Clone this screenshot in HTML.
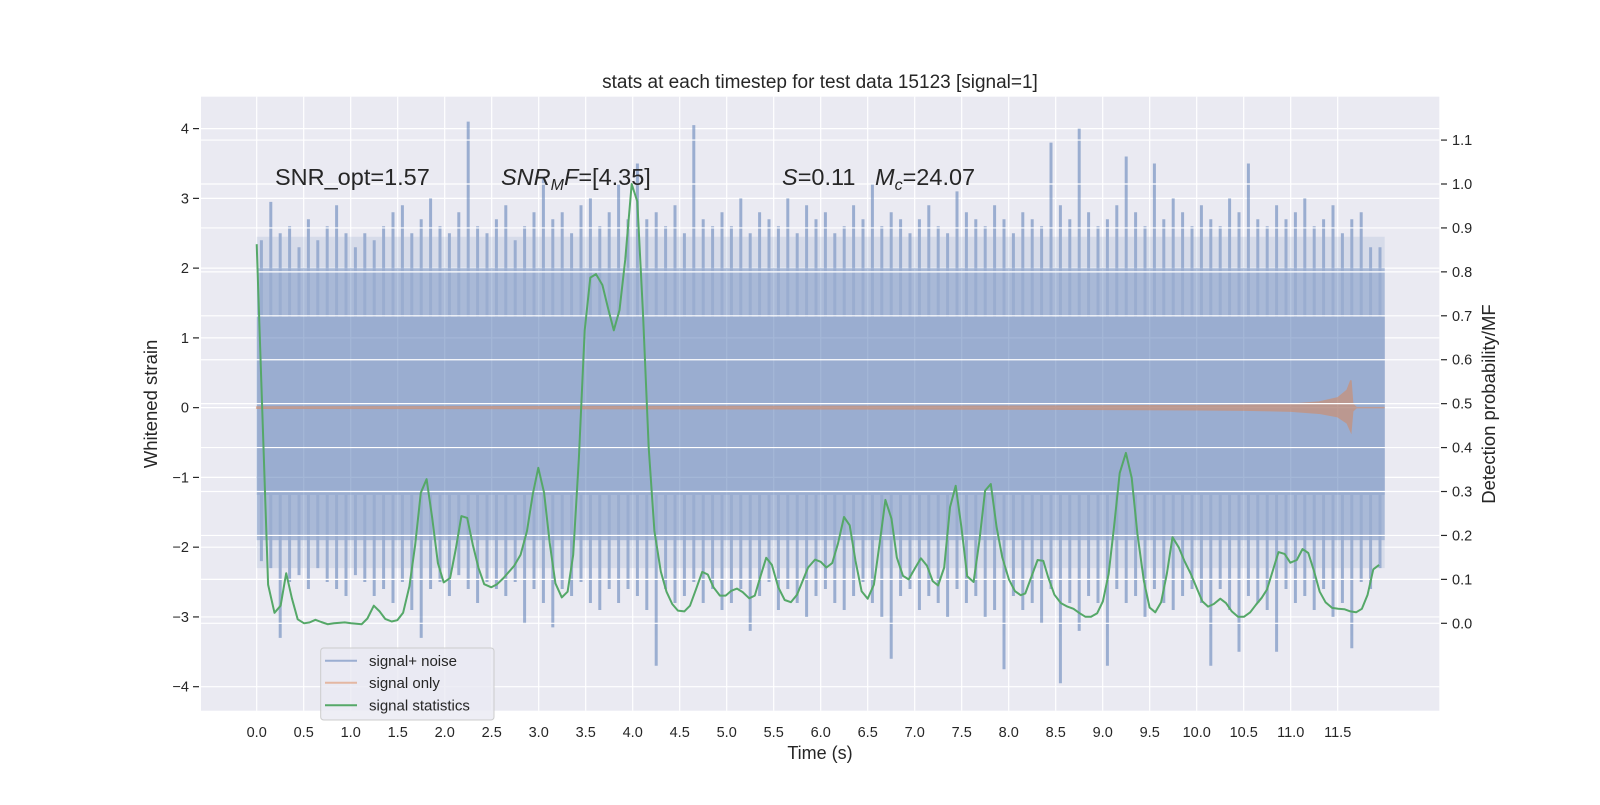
<!DOCTYPE html>
<html><head><meta charset="utf-8"><style>
html,body{margin:0;padding:0;background:#fff}
svg text{font-family:"Liberation Sans","DejaVu Sans",sans-serif;fill:#262626}
</style></head><body>
<svg id="chart" width="1600" height="800" viewBox="0 0 1600 800" xmlns="http://www.w3.org/2000/svg">
<rect x="0" y="0" width="1600" height="800" fill="#fff"/>
<rect x="201" y="96.7" width="1238.3" height="614" fill="#eaeaf2"/>
<g id="gridL"></g>
<g id="blue" opacity="0.5"></g>
<g id="orange" opacity="0.5"></g>
<g id="gridR"></g>
<g id="green"></g>
<g id="axes"></g>
<text x="820" y="88" font-size="19" text-anchor="middle">stats at each timestep for test data 15123 [signal=1]</text>
<text x="275" y="185" font-size="23.5">SNR_opt=1.57</text>
<text x="501" y="185" font-size="23.5"><tspan font-style="italic">SNR</tspan><tspan font-style="italic" font-size="16" dy="5">M</tspan><tspan font-style="italic" dy="-5">F</tspan>=[4.35]</text>
<text x="782" y="185" font-size="23.5"><tspan font-style="italic">S</tspan>=0.11</text>
<text x="875" y="185" font-size="23.5"><tspan font-style="italic">M</tspan><tspan font-style="italic" font-size="16" dy="5">c</tspan><tspan dy="-5">=24.07</tspan></text>
<text x="820" y="759" font-size="18" text-anchor="middle">Time (s)</text>
<text x="0" y="0" font-size="18.5" text-anchor="middle" transform="translate(157,404) rotate(-90)">Whitened strain</text>
<text x="0" y="0" font-size="18.5" text-anchor="middle" transform="translate(1495,404) rotate(-90)">Detection probability/MF</text>
<g>
<rect x="320.7" y="648" width="173.3" height="72" rx="3" fill="#eaeaf2" fill-opacity="0.8" stroke="#cccccc" stroke-width="1"/>
<g><line x1="325" y1="660.7" x2="357" y2="660.7" stroke="#4c72b0" stroke-opacity="0.5" stroke-width="2"/><text x="369" y="666" font-size="15">signal+ noise</text></g>
<g><line x1="325" y1="682.7" x2="357" y2="682.7" stroke="#dd8452" stroke-opacity="0.5" stroke-width="2"/><text x="369" y="688" font-size="15">signal only</text></g>
<g><line x1="325" y1="705.3" x2="357" y2="705.3" stroke="#55a868" stroke-width="2"/><text x="369" y="710.5" font-size="15">signal statistics</text></g>
</g>
</svg>
<script>
const xTicks=[0,0.5,1,1.5,2,2.5,3,3.5,4,4.5,5,5.5,6,6.5,7,7.5,8,8.5,9,9.5,10,10.5,11,11.5];
const leftTicks=[4,3,2,1,0,-1,-2,-3,-4];
const rightTicks=[1.1,1.0,0.9,0.8,0.7,0.6,0.5,0.4,0.3,0.2,0.1,0.0];
const greenTimes=[0,0.121,0.189,0.254,0.314,0.375,0.436,0.504,0.564,0.625,0.686,0.754,0.822,0.936,1.004,1.117,1.178,1.246,1.307,1.367,1.436,1.496,1.557,1.625,1.686,1.746,1.807,1.867,1.928,1.989,2.057,2.117,2.178,2.239,2.299,2.36,2.42,2.496,2.557,2.625,2.739,2.807,2.875,2.936,2.996,3.057,3.117,3.178,3.246,3.307,3.367,3.428,3.489,3.549,3.61,3.678,3.739,3.799,3.86,3.92,3.989,4.049,4.11,4.17,4.231,4.299,4.36,4.42,4.481,4.549,4.61,4.678,4.739,4.799,4.86,4.928,4.989,5.049,5.11,5.17,5.239,5.299,5.36,5.42,5.481,5.549,5.617,5.683,5.748,5.866,5.939,6.0,6.061,6.122,6.183,6.248,6.309,6.37,6.435,6.5,6.566,6.631,6.688,6.753,6.81,6.875,6.936,6.997,7.066,7.131,7.192,7.249,7.314,7.375,7.436,7.497,7.558,7.627,7.688,7.749,7.81,7.871,7.932,8.002,8.067,8.128,8.177,8.238,8.307,8.368,8.421,8.486,8.555,8.624,8.689,8.754,8.815,8.876,8.941,9.002,9.063,9.12,9.181,9.247,9.308,9.369,9.438,9.499,9.56,9.621,9.682,9.743,9.808,9.869,9.938,9.999,10.06,10.121,10.182,10.251,10.312,10.373,10.439,10.504,10.569,10.63,10.691,10.748,10.809,10.87,10.935,10.996,11.065,11.126,11.187,11.248,11.309,11.37,11.44,11.505,11.57,11.635,11.696,11.757,11.818,11.879,11.94];
const greenValues=[0.863,0.088,0.024,0.04,0.114,0.057,0.009,0,0.002,0.008,0.003,-0.002,0,0.002,0,-0.002,0.011,0.04,0.027,0.01,0.004,0.007,0.024,0.084,0.179,0.297,0.328,0.24,0.137,0.093,0.103,0.168,0.244,0.24,0.179,0.126,0.089,0.082,0.089,0.103,0.131,0.156,0.21,0.293,0.354,0.297,0.183,0.091,0.059,0.072,0.156,0.377,0.667,0.787,0.795,0.77,0.716,0.667,0.713,0.827,1.0,0.96,0.705,0.40,0.21,0.118,0.072,0.044,0.029,0.027,0.04,0.08,0.117,0.111,0.082,0.063,0.063,0.074,0.079,0.071,0.057,0.063,0.107,0.149,0.133,0.082,0.053,0.048,0.065,0.127,0.145,0.14,0.127,0.137,0.181,0.242,0.223,0.142,0.073,0.056,0.088,0.188,0.281,0.238,0.15,0.108,0.10,0.123,0.148,0.131,0.096,0.086,0.127,0.264,0.313,0.219,0.107,0.094,0.188,0.302,0.317,0.219,0.15,0.10,0.073,0.064,0.068,0.104,0.144,0.142,0.104,0.065,0.046,0.038,0.033,0.023,0.015,0.015,0.023,0.05,0.112,0.219,0.342,0.388,0.331,0.204,0.096,0.036,0.025,0.048,0.112,0.196,0.173,0.142,0.112,0.081,0.05,0.038,0.044,0.056,0.046,0.027,0.015,0.015,0.025,0.042,0.058,0.077,0.119,0.162,0.158,0.138,0.144,0.169,0.16,0.119,0.072,0.048,0.035,0.033,0.032,0.027,0.025,0.033,0.065,0.123,0.133];
const noiseUpper=[2.4,2.95,2.5,2.6,2.3,2.7,2.4,2.6,2.9,2.5,2.3,2.5,2.4,2.6,2.8,2.9,2.5,2.7,3.0,2.6,2.5,2.8,4.1,2.6,2.5,2.7,2.9,2.4,2.6,2.8,3.3,2.7,2.8,2.5,2.9,3.0,2.6,2.8,3.2,2.7,3.5,2.7,2.8,2.6,2.9,2.5,4.05,2.7,2.6,2.8,2.6,3.0,2.5,2.8,2.7,2.6,3.0,2.5,2.9,2.7,2.8,2.5,2.6,2.9,2.7,3.2,2.6,2.8,2.7,2.5,2.7,2.9,2.6,2.5,3.1,2.8,2.7,2.6,2.9,2.7,2.5,2.8,2.7,2.6,3.8,2.9,2.7,4.0,2.8,2.6,2.7,2.9,3.6,2.8,2.6,3.5,2.7,3.0,2.8,2.6,2.9,2.7,2.6,3.0,2.8,3.5,2.7,2.6,2.9,2.7,2.8,3.0,2.6,2.7,2.9,2.5,2.7,2.8,2.3,2.3];
const noiseLower=[-2.2,-2.3,-3.3,-2.5,-2.4,-2.6,-2.3,-2.5,-2.6,-2.7,-2.4,-2.5,-2.7,-2.6,-2.8,-2.5,-2.9,-3.3,-2.6,-2.5,-2.7,-2.4,-2.6,-2.8,-2.5,-2.6,-2.7,-2.5,-3.1,-2.6,-2.8,-3.15,-2.6,-2.7,-2.5,-2.8,-2.9,-2.6,-2.8,-2.6,-2.7,-2.9,-3.7,-2.6,-2.8,-2.7,-2.5,-2.8,-2.6,-2.9,-2.8,-2.6,-3.2,-2.7,-2.5,-2.9,-2.6,-2.8,-3.0,-2.7,-2.6,-2.8,-2.9,-2.7,-2.5,-2.8,-3.0,-3.6,-2.7,-2.6,-2.9,-2.7,-2.8,-3.0,-2.6,-2.8,-2.7,-3.0,-2.9,-3.75,-2.7,-2.9,-2.8,-3.1,-2.6,-3.95,-2.8,-3.2,-2.7,-2.8,-3.7,-2.6,-2.8,-2.7,-3.0,-2.6,-2.8,-2.9,-2.7,-2.6,-2.8,-3.7,-2.6,-2.9,-3.5,-2.7,-2.8,-2.9,-3.5,-2.6,-2.8,-2.7,-2.9,-2.6,-3.0,-2.8,-3.45,-2.5,-2.6,-2.3];
const noiseCore=[1.3,-1.25];
const noiseFringe=[2.0,-1.9];
const noiseOuter=[2.45,-2.3];
const noiseDuration=12.0;
const chirpTimes=[0,8,10,10.5,11,11.3,11.5,11.6,11.64,11.66,11.7,12.0];
const chirpUpper=[0.01,0.02,0.03,0.035,0.05,0.08,0.14,0.25,0.39,0.05,0.0,0.0];
const chirpLower=[-0.01,-0.02,-0.03,-0.035,-0.05,-0.08,-0.13,-0.22,-0.34,-0.05,0.0,0.0];

const NS='http://www.w3.org/2000/svg';
const PL=201,PR=1439.3,PT=96.7,PB=710.7;
function xs(t){return 256.7+94.0*t;}
function yl(v){return 407.65-69.76*v;}
function yr(v){return 623.3-439.3*v;}
function mk(tag,parent,attrs){const e=document.createElementNS(NS,tag);for(const k in attrs)e.setAttribute(k,attrs[k]);parent.appendChild(e);return e;}

const gL=document.getElementById('gridL'),gR=document.getElementById('gridR'),ax=document.getElementById('axes');
xTicks.forEach(t=>{
  const l=mk('line',gL,{x1:xs(t),x2:xs(t),y1:PT,y2:PB,stroke:'#fff','stroke-width':1.2});
  
  
  const tx=mk('text',ax,{x:xs(t),y:737,'font-size':14.5,'text-anchor':'middle'});
  tx.textContent=t.toFixed(1);
  
  
});
leftTicks.forEach(v=>{
  const l=mk('line',gL,{x1:PL,x2:PR,y1:yl(v),y2:yl(v),stroke:'#fff','stroke-width':1.2});
  
  
  const tk=mk('line',ax,{x1:193,x2:199,y1:yl(v),y2:yl(v),stroke:'#262626','stroke-width':1.2});
  
  
  const tx=mk('text',ax,{x:189,y:yl(v)+5,'font-size':14.5,'text-anchor':'end'});
  tx.textContent=v<0?'\u2212'+Math.abs(v):String(v);
  
  
});
rightTicks.forEach(v=>{
  const l=mk('line',gR,{x1:PL,x2:PR,y1:yr(v),y2:yr(v),stroke:'#fff','stroke-width':1.2});
  
  
  const tk=mk('line',ax,{x1:1441,x2:1447,y1:yr(v),y2:yr(v),stroke:'#262626','stroke-width':1.2});
  
  
  const tx=mk('text',ax,{x:1452,y:yr(v)+5,'font-size':14.5});
  tx.textContent=v.toFixed(1);
  
  
});

// blue signal+noise
const gB=document.getElementById('blue');
const W=xs(noiseDuration)-xs(0);
const ou=mk('rect',gB,{x:xs(0),y:yl(noiseOuter[0]),width:W,height:yl(noiseOuter[1])-yl(noiseOuter[0]),fill:'#4c72b0','fill-opacity':0.25});


const fr=mk('rect',gB,{x:xs(0),y:yl(noiseFringe[0]),width:W,height:yl(noiseFringe[1])-yl(noiseFringe[0]),fill:'#4c72b0','fill-opacity':0.75});


const cr=mk('rect',gB,{x:xs(0),y:yl(noiseCore[0]),width:W,height:yl(noiseCore[1])-yl(noiseCore[0]),fill:'#4c72b0'});


const step=noiseDuration/noiseUpper.length;
let sp='';
noiseUpper.forEach((v,i)=>{const t=(i+0.5)*step;sp+=`M${xs(t).toFixed(1)} ${yl(noiseCore[0]).toFixed(1)}V${yl(v).toFixed(1)}`;});
noiseLower.forEach((v,i)=>{const t=(i+0.5)*step;sp+=`M${xs(t).toFixed(1)} ${yl(noiseCore[1]).toFixed(1)}V${yl(v).toFixed(1)}`;});
const spk=mk('path',gB,{d:sp,stroke:'#4c72b0','stroke-width':3,fill:'none'});



// orange chirp
const gO=document.getElementById('orange');
let od='M'+chirpTimes.map((t,i)=>xs(t).toFixed(1)+' '+yl(chirpUpper[i]).toFixed(1)).join('L');
for(let i=chirpTimes.length-1;i>=0;i--)od+='L'+xs(chirpTimes[i]).toFixed(1)+' '+yl(chirpLower[i]).toFixed(1);
od+='Z';
const op=mk('path',gO,{d:od,fill:'#dd8452',stroke:'#dd8452','stroke-width':1.5});



// green
const gG=document.getElementById('green');
const gd='M'+greenTimes.map((t,i)=>xs(t).toFixed(1)+' '+yr(greenValues[i]).toFixed(1)).join('L');
const gp=mk('path',gG,{d:gd,fill:'none',stroke:'#55a868','stroke-width':2,'stroke-linejoin':'round'});


</script>
</body></html>
